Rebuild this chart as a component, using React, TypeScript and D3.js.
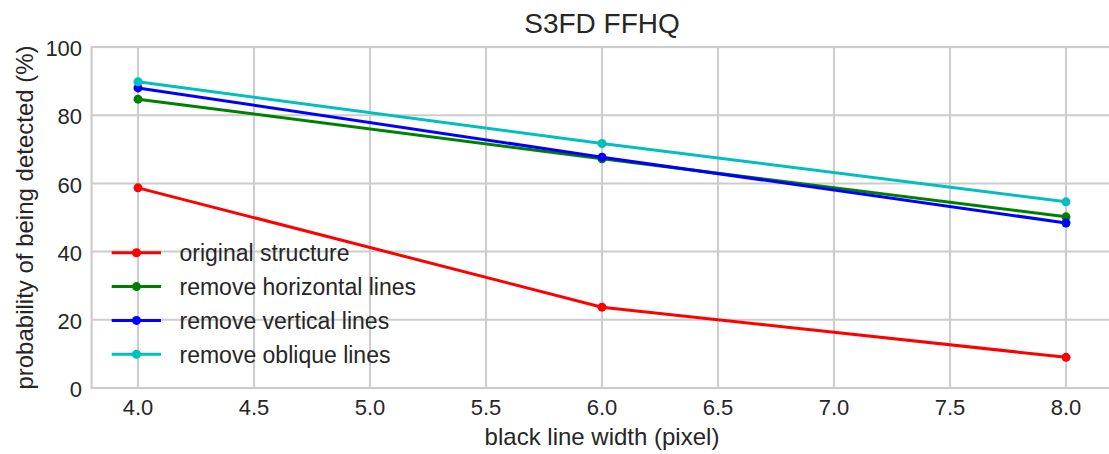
import React from "react";
import * as d3 from "d3";

const xValues = [4.0, 6.0, 8.0];
const originalStructure = [58.7, 23.7, 9.0];
const removeHorizontal = [84.7, 67.2, 50.2];
const removeVertical = [88.0, 67.7, 48.4];
const removeOblique = [89.8, 71.7, 54.6];
const seriesNames = ["original structure", "remove horizontal lines", "remove vertical lines", "remove oblique lines"];
const seriesColors = ["#ff0000", "#008000", "#0000ff", "#00bfbf"];
const xTicks = [4.0, 4.5, 5.0, 5.5, 6.0, 6.5, 7.0, 7.5, 8.0];
const yTicks = [0, 20, 40, 60, 80, 100];

const W = 1109;
const H = 454;
const margin = { left: 91.6, right: 1112.4, top: 47, bottom: 388 };

export default function App() {
  const x = d3.scaleLinear().domain([3.8, 8.2]).range([margin.left, margin.right]);
  const y = d3.scaleLinear().domain([0, 100]).range([margin.bottom, margin.top]);
  const allSeries = [originalStructure, removeHorizontal, removeVertical, removeOblique];
  const line = d3
    .line<[number, number]>()
    .x((d) => x(d[0]))
    .y((d) => y(d[1]));
  const font = "'Liberation Sans', Arial, sans-serif";
  const textColor = "#262626";
  const grid = "#cccccc";
  return (
    <svg width={W} height={H} style={{ position: "absolute", left: 0, top: 0, background: "#fff" }} fontFamily={font}>
      <rect x={0} y={0} width={W} height={H} fill="#fff" />
      {xTicks.map((t) => (
        <line key={"gx" + t} x1={x(t)} x2={x(t)} y1={margin.top} y2={margin.bottom} stroke={grid} strokeWidth={2} />
      ))}
      {yTicks.map((t) => (
        <line key={"gy" + t} x1={margin.left} x2={margin.right} y1={y(t)} y2={y(t)} stroke={grid} strokeWidth={2} />
      ))}
      <rect x={margin.left} y={margin.top} width={margin.right - margin.left} height={margin.bottom - margin.top} fill="none" stroke={grid} strokeWidth={2.2} />
      {xTicks.map((t) => (
        <text key={"tx" + t} x={x(t)} y={margin.bottom + 27} textAnchor="middle" fontSize={22} fill={textColor}>
          {t.toFixed(1)}
        </text>
      ))}
      {yTicks.map((t) => (
        <text key={"ty" + t} x={margin.left - 9.5} y={y(t) + 9.2} textAnchor="end" fontSize={22} fill={textColor}>
          {t}
        </text>
      ))}
      {allSeries.map((s, i) => {
        const pts = s.map((v, j) => [xValues[j], v] as [number, number]);
        return (
          <g key={"s" + i}>
            <path d={line(pts) || ""} fill="none" stroke={seriesColors[i]} strokeWidth={3} />
            {pts.map((p, j) => (
              <circle key={j} cx={x(p[0])} cy={y(p[1])} r={4.5} fill={seriesColors[i]} />
            ))}
          </g>
        );
      })}
      {seriesNames.map((n, i) => {
        const ly = 252.8 + i * 33.8;
        return (
          <g key={"l" + i}>
            <line x1={111.7} x2={161} y1={ly} y2={ly} stroke={seriesColors[i]} strokeWidth={3} />
            <circle cx={136.5} cy={ly} r={4.5} fill={seriesColors[i]} />
            <text x={179.5} y={ly + 8.6} fontSize={23} fill={textColor}>
              {n}
            </text>
          </g>
        );
      })}
      <text x={(margin.left + margin.right) / 2} y={33} textAnchor="middle" fontSize={28} fill={textColor}>
        S3FD FFHQ
      </text>
      <text x={(margin.left + margin.right) / 2} y={445} textAnchor="middle" fontSize={24} fill={textColor}>
        black line width (pixel)
      </text>
      <text
        transform={`translate(33, ${(margin.top + margin.bottom) / 2}) rotate(-90)`}
        textAnchor="middle"
        fontSize={24}
        fill={textColor}
      >
        probability of being detected (%)
      </text>
    </svg>
  );
}
